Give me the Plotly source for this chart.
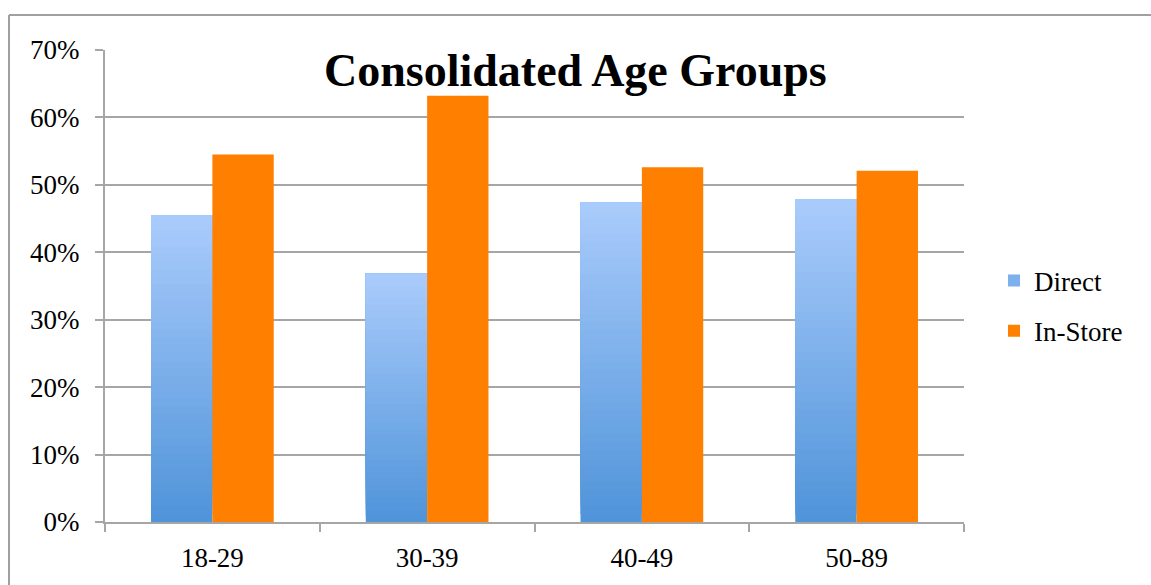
import plotly.graph_objects as go

categories = ["18-29", "30-39", "40-49", "50-89"]
direct = [0.455, 0.368, 0.474, 0.479]
in_store = [0.545, 0.632, 0.526, 0.521]
y_ticks = [0, 0.1, 0.2, 0.3, 0.4, 0.5, 0.6, 0.7]
y_tick_labels = ["0%", "10%", "20%", "30%", "40%", "50%", "60%", "70%"]

W, H = 1151, 585
ML, MR, MT, MB = 105, 187, 50, 63
PW = W - ML - MR
PH = H - MT - MB

FONT = "Liberation Serif, Times New Roman, serif"
TOP_C = (169, 203, 251)
BOT_C = (80, 148, 218)
N = 40

def mix(t):
    r = [round(BOT_C[i] + (TOP_C[i] - BOT_C[i]) * t) for i in range(3)]
    return f"rgb({r[0]},{r[1]},{r[2]})"

fig = go.Figure()

# Direct bars: overlapping layers (each from its start height up to the value)
# so the vertical gradient has no seams
for k in range(N):
    t = k / (N - 1)
    fig.add_trace(go.Bar(
        x=categories,
        y=[v * (N - k) / N for v in direct],
        base=[v * k / N for v in direct],
        offsetgroup="direct",
        legendgroup="direct",
        name="Direct",
        showlegend=(k == N // 2),
        legendrank=1,
        marker=dict(color=mix(t), line=dict(width=0)),
        hoverinfo="skip",
    ))

fig.add_trace(go.Bar(
    x=categories,
    y=in_store,
    offsetgroup="instore",
    legendgroup="instore",
    name="In-Store",
    legendrank=2,
    marker=dict(color="#FF7F00", line=dict(width=0)),
))

grid_c = "#A6A6A6"

fig.update_layout(
    width=W, height=H,
    margin=dict(l=ML, r=MR, t=MT, b=MB, pad=0),
    paper_bgcolor="white",
    plot_bgcolor="white",
    barmode="group",
    bargap=0.4286,
    bargroupgap=0,
    font=dict(family=FONT, size=27, color="black"),
    showlegend=True,
    legend=dict(
        x=(994 - ML) / PW, xanchor="left",
        y=1 - (306 - MT) / PH, yanchor="middle",
        font=dict(family=FONT, size=27, color="black"),
        tracegroupgap=12,
        bgcolor="rgba(0,0,0,0)",
        itemclick=False,
    ),
    xaxis=dict(
        type="category",
        tickson="boundaries",
        ticks="outside",
        ticklen=8,
        tickwidth=2,
        tickcolor=grid_c,
        showline=True,
        linecolor=grid_c,
        linewidth=2,
        showgrid=False,
        ticklabelstandoff=11,
        tickfont=dict(family=FONT, size=27, color="black"),
    ),
    yaxis=dict(
        range=[0, 0.7],
        tickvals=y_ticks,
        ticktext=y_tick_labels,
        ticks="outside",
        ticklen=8,
        tickwidth=2,
        tickcolor=grid_c,
        showline=True,
        linecolor=grid_c,
        linewidth=2,
        showgrid=True,
        gridcolor=grid_c,
        gridwidth=2,
        zeroline=False,
        ticklabelstandoff=10,
        tickfont=dict(family=FONT, size=27, color="black"),
    ),
    annotations=[dict(
        text="<b>Consolidated Age Groups</b>",
        xref="paper", yref="paper",
        x=(575.5 - ML) / PW, xanchor="center",
        y=1 - (70 - MT) / PH, yanchor="middle",
        showarrow=False,
        font=dict(family=FONT, size=46, color="black"),
    )],
    shapes=[
        dict(type="line", xref="paper", yref="paper",
             x0=(9 - ML) / PW, x1=(1160 - ML) / PW,
             y0=1 + (MT - 15) / PH, y1=1 + (MT - 15) / PH,
             line=dict(color="#A0A0A0", width=2)),
        dict(type="line", xref="paper", yref="paper",
             x0=(9 - ML) / PW, x1=(9 - ML) / PW,
             y0=1 + (MT - 15) / PH, y1=-(MB + 10) / PH,
             line=dict(color="#A0A0A0", width=2)),
    ],
)

fig.write_html("out.html")
